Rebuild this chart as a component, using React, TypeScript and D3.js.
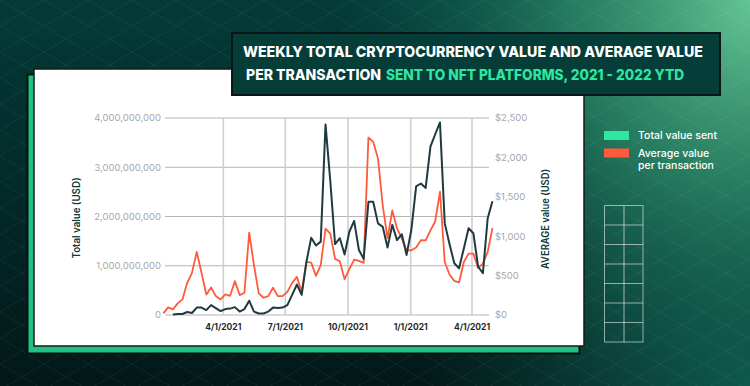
import React from "react";
import * as d3 from "d3";

// weekly data, first week starting 2021-01-03
const weekStart = new Date(2021, 0, 3);

// total value sent per week, billions USD (left axis)
const totalValueB = [
  null, null, 0.01, 0.02, 0.02, 0.06, 0.04, 0.15, 0.15, 0.10,
  0.20, 0.14, 0.08, 0.12, 0.13, 0.16, 0.07, 0.12, 0.29, 0.07,
  0.03, 0.03, 0.07, 0.15, 0.14, 0.15, 0.20, 0.41, 0.62, 0.41,
  1.08, 1.57, 1.41, 1.49, 3.87, 2.72, 1.44, 1.56, 1.23, 1.69,
  1.91, 1.32, 1.14, 2.30, 2.30, 1.86, 1.79, 1.37, 1.83, 1.52,
  1.64, 1.22, 1.73, 2.61, 2.67, 2.58, 3.42, 3.67, 3.91, 1.86,
  1.44, 1.05, 0.95, 1.35, 1.76, 1.66, 0.98, 0.85, 1.96, 2.31,
];

// average value per transaction, USD (right axis)
const avgValue = [
  20, 97, 72, 148, 198, 408, 534, 800, 537, 258,
  350, 240, 198, 261, 244, 430, 253, 282, 1045, 632,
  274, 219, 240, 345, 240, 240, 294, 408, 484, 294,
  673, 665, 496, 632, 1095, 1032, 712, 682, 455, 581,
  703, 686, 661, 2252, 2198, 1987, 1389, 976, 1326, 1099,
  969, 821, 821, 856, 950, 947, 1074, 1187, 1566, 673,
  514, 433, 413, 673, 779, 779, 597, 653, 800, 1103,
];

const xTickDates = [
  new Date(2021, 3, 1),
  new Date(2021, 6, 1),
  new Date(2021, 9, 1),
  new Date(2022, 0, 1),
  new Date(2022, 3, 1),
];
const xTickLabels = ["4/1/2021", "7/1/2021", "10/1/2021", "1/1/2021", "4/1/2021"];
const leftTicks = [0, 1e9, 2e9, 3e9, 4e9];
const rightTicks = [0, 500, 1000, 1500, 2000, 2500];

const legendItems = [
  { lines: ["Total value sent"], color: "#2ee8a0" },
  { lines: ["Average value", "per transaction"], color: "#ff5a3c" },
];

const FONT = "Inter, 'Open Sans', sans-serif";

export default function App() {
  const dates = avgValue.map((_, i) => d3.timeDay.offset(weekStart, i * 7));

  const x = d3.scaleTime()
    .domain([new Date(2021, 0, 1), new Date(2022, 3, 1)])
    .range([162, 472]);
  const yLeft = d3.scaleLinear().domain([0, 4e9]).range([315, 118]);
  const yRight = d3.scaleLinear().domain([0, 2500]).range([315, 118]);

  const totalLine = d3.line<number | null>()
    .defined(d => d !== null)
    .x((_, i) => x(dates[i]))
    .y(d => yLeft((d as number) * 1e9));
  const avgLine = d3.line<number>()
    .x((_, i) => x(dates[i]))
    .y(d => yRight(d));

  const fmt = d3.format(",");

  return (
    <svg width={750} height={386} style={{ position: "absolute", left: 0, top: 0 }}
      fontFamily={FONT}>
      <defs>
        <linearGradient id="bgv" x1="0" y1="0" x2="0" y2="1">
          <stop offset="0" stopColor="#033b38" />
          <stop offset="1" stopColor="#021818" />
        </linearGradient>
        <radialGradient id="glow" cx="760" cy="0" r="430" gradientUnits="userSpaceOnUse">
          <stop offset="0" stopColor="#66c897" stopOpacity="1" />
          <stop offset="0.45" stopColor="#2f8f6c" stopOpacity="0.75" />
          <stop offset="1" stopColor="#0d5a4c" stopOpacity="0" />
        </radialGradient>
        <radialGradient id="glow2" cx="750" cy="386" r="330" gradientUnits="userSpaceOnUse">
          <stop offset="0" stopColor="#0f5d50" stopOpacity="0.9" />
          <stop offset="1" stopColor="#0f5d50" stopOpacity="0" />
        </radialGradient>
        <pattern id="diam" width="44" height="26" patternUnits="userSpaceOnUse">
          <path d="M0,0 L44,26 M44,0 L0,26" stroke="#ffffff" strokeOpacity="0.05" strokeWidth="1" />
        </pattern>
      </defs>

      {/* background */}
      <rect width={750} height={386} fill="url(#bgv)" />
      <rect width={750} height={386} fill="url(#glow2)" />
      <rect width={750} height={386} fill="url(#glow)" />
      <rect width={750} height={386} fill="url(#diam)" />

      {/* cards */}
      <rect x={27.5} y={74.5} width={552} height={279} fill="#1fc185" stroke="#0a1010" strokeWidth={2} />
      <rect x={34} y={69} width={550} height={277} fill="#ffffff" stroke="#141a1a" strokeWidth={1.5} />

      {/* title box */}
      <rect x={232} y={33} width={488} height={62} fill="#053d38" stroke="#0c1616" strokeWidth={2} />
      <text x={243} y={57} fontSize={14.5} fontWeight={800} fill="#ffffff"
        textLength={460} lengthAdjust="spacingAndGlyphs">
        WEEKLY TOTAL CRYPTOCURRENCY VALUE AND AVERAGE VALUE
      </text>
      <text x={246} y={80} fontSize={14.5} fontWeight={800} fill="#ffffff"
        textLength={135} lengthAdjust="spacingAndGlyphs">
        PER TRANSACTION
      </text>
      <text x={386} y={80} fontSize={14.5} fontWeight={800} fill="#2ee6a0"
        textLength={298} lengthAdjust="spacingAndGlyphs">
        SENT TO NFT PLATFORMS, 2021 - 2022 YTD
      </text>

      {/* horizontal grid + left axis */}
      {leftTicks.map(t => (
        <g key={"l" + t}>
          <line x1={165} x2={489} y1={yLeft(t)} y2={yLeft(t)} stroke="#b4b4b4" strokeWidth={1} />
          <text x={161} y={yLeft(t)} dy="0.35em" textAnchor="end" fontSize={9.5} fill="#a8a8a8">
            {fmt(t)}
          </text>
        </g>
      ))}

      {/* vertical grid + x labels */}
      {xTickDates.map((d, i) => (
        <g key={"x" + i}>
          <line x1={x(d)} x2={x(d)} y1={118} y2={315} stroke="#cfcfcf" strokeWidth={1.6} />
          <text x={x(d)} y={330} textAnchor="middle" fontSize={8.5} fontWeight={700} fill="#1e2a2a">
            {xTickLabels[i]}
          </text>
        </g>
      ))}

      {/* right axis labels */}
      {rightTicks.map(t => (
        <text key={"r" + t} x={495} y={yRight(t)} dy="0.35em" fontSize={9.5} fill="#a8a8a8">
          {"$" + fmt(t)}
        </text>
      ))}

      {/* axis titles */}
      <text transform="translate(80,218) rotate(-90)" textAnchor="middle" fontSize={10}
        fontWeight={600} fill="#0c3838" textLength={81} lengthAdjust="spacingAndGlyphs">
        Total value (USD)
      </text>
      <text transform="translate(549,219) rotate(-90)" textAnchor="middle" fontSize={10}
        fontWeight={600} fill="#0c3838" textLength={100} lengthAdjust="spacingAndGlyphs">
        AVERAGE value (USD)
      </text>

      {/* lines */}
      <path d={avgLine(avgValue) || ""} fill="none" stroke="#ff5a3c" strokeWidth={1.8}
        strokeLinejoin="round" />
      <path d={totalLine(totalValueB) || ""} fill="none" stroke="#1f3b40" strokeWidth={2}
        strokeLinejoin="round" />

      {/* legend */}
      {legendItems.map((it, i) => (
        <g key={"lg" + i} transform={`translate(604,${131 + i * 17.5})`}>
          <rect width={25} height={9} fill={it.color} />
          {it.lines.map((ln, j) => (
            <text key={j} x={34} y={4.5 + j * 12} dy="0.35em" fontSize={10.5} fontWeight={500}
              fill="#ffffff">
              {ln}
            </text>
          ))}
        </g>
      ))}

      {/* decorative grid */}
      <g stroke="#ffffff" strokeOpacity={0.55} fill="none" strokeWidth={1}>
        <rect x={604.5} y={205.5} width={38.5} height={136.5} />
        <line x1={624} x2={624} y1={205.5} y2={342} strokeWidth={1.5} strokeOpacity={0.4} />
        {d3.range(1, 7).map(k => (
          <line key={k} x1={604.5} x2={643} y1={205.5 + k * 19.5} y2={205.5 + k * 19.5} />
        ))}
      </g>
    </svg>
  );
}
